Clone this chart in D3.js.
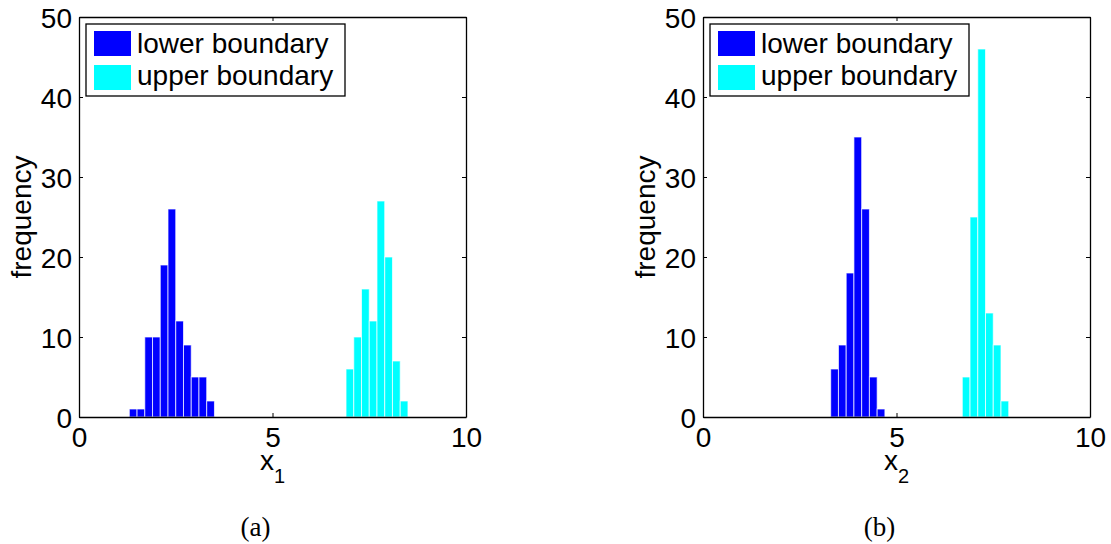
<!DOCTYPE html>
<html>
<head>
<meta charset="utf-8">
<script src="https://cdn.jsdelivr.net/npm/d3@7"></script>
<style>
    body { margin: 0; background: #fff; }
    svg text { font-family: "Liberation Sans", Arial, Helvetica, sans-serif; fill: #000; }
    svg text.caption { font-family: "Liberation Serif", "Times New Roman", serif; }
</style>
</head>
<body>
<div id="chart"></div>
<script>
// histogram data (bin centres, bin width 0.2)
const lowerX1Centers = [1.4, 1.6, 1.8, 2.0, 2.2, 2.4, 2.6, 2.8, 3.0, 3.2, 3.4];
const lowerX1Counts  = [1, 1, 10, 10, 19, 26, 12, 9, 5, 5, 2];
const upperX1Centers = [7.0, 7.2, 7.4, 7.6, 7.8, 8.0, 8.2, 8.4];
const upperX1Counts  = [6, 10, 16, 12, 27, 20, 7, 2];

const lowerX2Centers = [3.4, 3.6, 3.8, 4.0, 4.2, 4.4, 4.6];
const lowerX2Counts  = [6, 9, 18, 35, 26, 5, 1];
const upperX2Centers = [6.8, 7.0, 7.2, 7.4, 7.6, 7.8];
const upperX2Counts  = [5, 25, 46, 13, 9, 2];

const binWidth = 0.2;
const xTicks = [0, 5, 10];
const yTicks = [0, 10, 20, 30, 40, 50];
const seriesNames = ['lower boundary', 'upper boundary'];
const seriesColors = ['#0000ff', '#00ffff'];

(function () {
    'use strict';

    const W = 1111, H = 544;
    const svg = d3.select('#chart').append('svg')
        .attr('width', W).attr('height', H);

    // pixel boxes of the two axes
    const panels = [
        { left: 79, right: 466, top: 17, bottom: 417, sub: '1', caption: '(a)',
          lower: [lowerX1Centers, lowerX1Counts], upper: [upperX1Centers, upperX1Counts] },
        { left: 703, right: 1090, top: 17, bottom: 417, sub: '2', caption: '(b)',
          lower: [lowerX2Centers, lowerX2Counts], upper: [upperX2Centers, upperX2Counts] }
    ];

    const FONT = 28;
    const TICK = 4;

    function drawPanel(p) {
        const x = d3.scaleLinear().domain([0, 10]).range([p.left, p.right]);
        const y = d3.scaleLinear().domain([0, 50]).range([p.bottom, p.top]);
        const g = svg.append('g');

        // bars
        [p.lower, p.upper].forEach(function (s, i) {
            const rows = s[0].map(function (c, k) { return { c: c, n: s[1][k] }; });
            g.append('g').selectAll('rect')
                .data(rows)
                .enter()
                .append('rect')
                .attr('x', function (d) { return x(d.c - binWidth / 2); })
                .attr('y', function (d) { return y(d.n); })
                .attr('width', function (d) { return x(d.c + binWidth / 2) - x(d.c - binWidth / 2); })
                .attr('height', function (d) { return y(0) - y(d.n); })
                .attr('fill', seriesColors[i])
                .attr('stroke', '#ffffff')
                .attr('stroke-opacity', 0.7)
                .attr('stroke-width', 1);
        });

        // axes, inward ticks on all four sides (matlab box on)
        const bottomAxis = d3.axisBottom(x).tickValues(xTicks).tickSizeInner(-TICK).tickSizeOuter(0).tickPadding(10);
        const topAxis = d3.axisTop(x).tickValues(xTicks).tickSizeInner(-TICK).tickSizeOuter(0).tickFormat('');
        const leftAxis = d3.axisLeft(y).tickValues(yTicks).tickSizeInner(-TICK).tickSizeOuter(0).tickPadding(7);
        const rightAxis = d3.axisRight(y).tickValues(yTicks).tickSizeInner(-TICK).tickSizeOuter(0).tickFormat('');

        const gb = g.append('g').attr('transform', 'translate(0,' + p.bottom + ')').call(bottomAxis);
        g.append('g').attr('transform', 'translate(0,' + p.top + ')').call(topAxis);
        const gl = g.append('g').attr('transform', 'translate(' + p.left + ',0)').call(leftAxis);
        g.append('g').attr('transform', 'translate(' + p.right + ',0)').call(rightAxis);

        g.selectAll('.domain').attr('stroke', '#000').attr('stroke-width', 1.3);
        g.selectAll('.tick line').attr('stroke', '#000');
        g.selectAll('.tick text').attr('font-size', FONT).attr('font-family', null);
        gb.selectAll('.tick text').attr('dy', '0.71em');
        gl.selectAll('.tick text').attr('dy', '0.36em');

        // axis labels
        const xl = g.append('text')
            .attr('x', (p.left + p.right) / 2)
            .attr('y', 470)
            .attr('font-size', FONT)
            .attr('text-anchor', 'middle');
        xl.append('tspan').text('x');
        xl.append('tspan').attr('dy', 13).attr('font-size', 20).text(p.sub);

        g.append('text')
            .attr('transform', 'translate(' + (p.left - 48) + ',' + ((p.top + p.bottom) / 2) + ') rotate(-90)')
            .attr('text-anchor', 'middle')
            .attr('font-size', FONT)
            .text('frequency');

        // legend
        const lg = g.append('g').attr('transform', 'translate(' + (p.left + 7) + ',24)');
        lg.append('rect')
            .attr('width', 259).attr('height', 72)
            .attr('fill', '#fff').attr('stroke', '#000').attr('stroke-width', 1.3);
        seriesNames.forEach(function (name, i) {
            lg.append('rect')
                .attr('x', 8).attr('y', 7 + i * 34)
                .attr('width', 37).attr('height', 25)
                .attr('fill', seriesColors[i]);
            lg.append('text')
                .attr('x', 51).attr('y', 29 + i * 32)
                .attr('font-size', FONT)
                .text(name);
        });

        // caption under the panel
        svg.append('text')
            .attr('class', 'caption')
            .attr('x', (p.left + p.right) / 2 - 17)
            .attr('y', 536)
            .attr('text-anchor', 'middle')
            .attr('font-size', 27)
            .text(p.caption);
    }

    panels.forEach(drawPanel);
})();
</script>
</body>
</html>
